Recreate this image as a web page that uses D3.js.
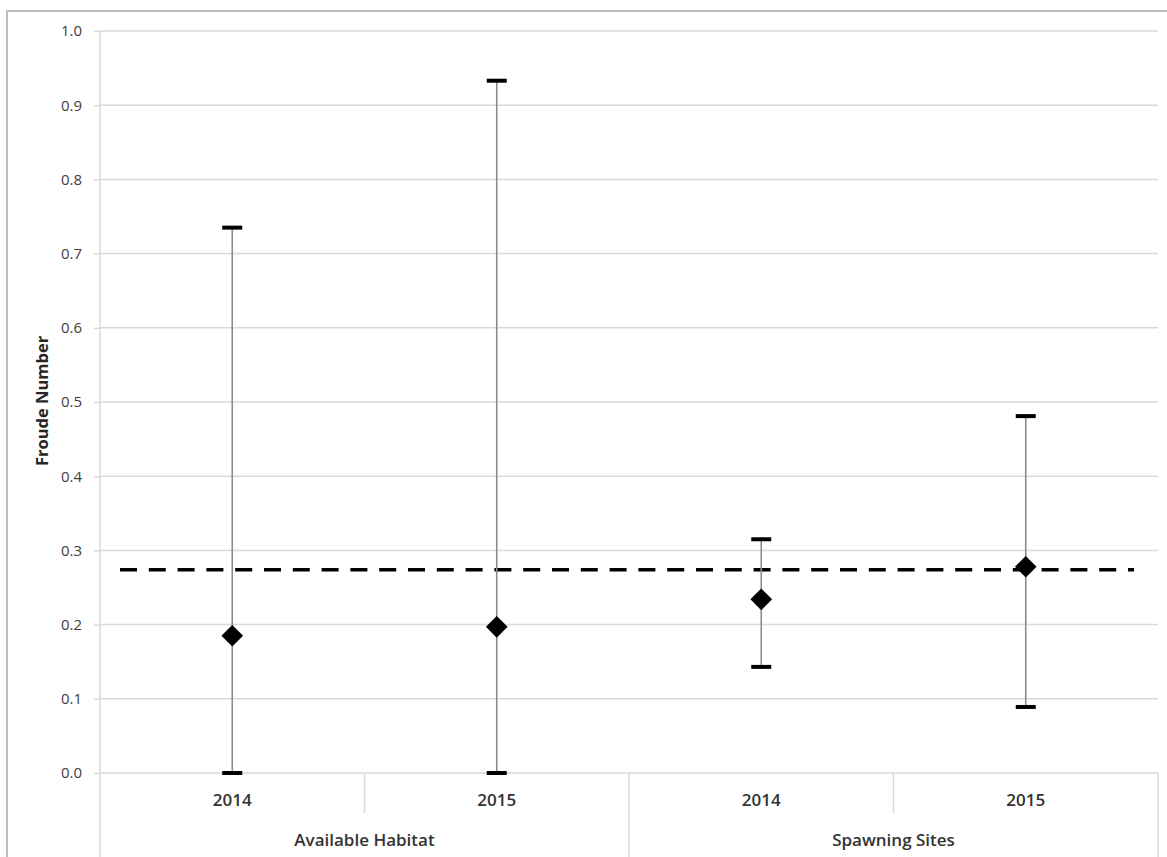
<!DOCTYPE html>
<html>
<head>
<meta charset="utf-8">
<script src="https://cdn.jsdelivr.net/npm/d3@7"></script>
<style>
  html, body { margin: 0; padding: 0; background: #fff; }
  svg { display: block; }
</style>
</head>
<body>
<svg id="chart" width="1167" height="857"></svg>
<script>
// ---- data ----
const groups = ["Available Habitat", "Available Habitat", "Spawning Sites", "Spawning Sites"];
const years = ["2014", "2015", "2014", "2015"];
const meanValues = [0.185, 0.197, 0.234, 0.278];
const minValues = [0.0, 0.0, 0.143, 0.089];
const maxValues = [0.735, 0.933, 0.315, 0.481];
const thresholdValue = 0.274;
const yTicks = [0, 0.1, 0.2, 0.3, 0.4, 0.5, 0.6, 0.7, 0.8, 0.9, 1.0];
const yLabel = "Froude Number";

// ---- layout ----
const W = 1167, H = 857;
const mLeft = 100, mRight = 1158, mTop = 31, mBottom = 773;
const svg = d3.select("#chart");
const font = "'Open Sans', 'Liberation Sans', sans-serif";

// outer frame
svg.append("rect").attr("x", 7).attr("y", 11).attr("width", W + 10).attr("height", H + 10)
  .attr("fill", "#fff").attr("stroke", "#bfbfbf").attr("stroke-width", 2);

const keys = years.map((yv, i) => i);
const x = d3.scaleBand().domain(keys).range([mLeft, mRight]).paddingInner(0).paddingOuter(0);
const y = d3.scaleLinear().domain([0, 1]).range([mBottom, mTop]);

// gridlines
svg.append("g").selectAll("line").data(yTicks).join("line")
  .attr("x1", mLeft).attr("x2", mRight)
  .attr("y1", d => y(d)).attr("y2", d => y(d))
  .attr("stroke", "#d9d9d9").attr("stroke-width", 1.5);

// y axis
const yAxis = svg.append("g").attr("transform", `translate(${mLeft},0)`)
  .call(d3.axisLeft(y).tickValues(yTicks).tickFormat(d3.format(".1f")).tickSize(6).tickPadding(12));
yAxis.select(".domain").attr("stroke", "#d9d9d9").attr("stroke-width", 1.5)
  .attr("d", `M0,${mTop}V${H + 5}`);
yAxis.selectAll(".tick line").attr("stroke", "#d9d9d9").attr("stroke-width", 1.5);
yAxis.selectAll(".tick text").attr("fill", "#404040").style("font-family", font)
  .style("font-size", "15px").style("font-weight", "500");

// y label
svg.append("text").attr("transform", `translate(48,401) rotate(-90)`)
  .attr("text-anchor", "middle").attr("fill", "#262626")
  .style("font-family", font).style("font-size", "16.5px").style("font-weight", "bold")
  .text(yLabel);

// category axis dividers
const gAxis = svg.append("g");
keys.forEach((k, i) => {
  const xr = x(k) + x.bandwidth();
  const isGroupEnd = i === keys.length - 1 || groups[i] !== groups[i + 1];
  gAxis.append("line").attr("x1", xr).attr("x2", xr).attr("y1", mBottom)
    .attr("y2", isGroupEnd ? H + 5 : mBottom + 40)
    .attr("stroke", "#d9d9d9").attr("stroke-width", 1.5);
});
// year labels
svg.append("g").selectAll("text").data(keys).join("text")
  .attr("x", d => x(d) + x.bandwidth() / 2).attr("y", mBottom + 33)
  .attr("text-anchor", "middle").attr("fill", "#333")
  .style("font-family", font).style("font-size", "17px").style("font-weight", "600")
  .text(d => years[d]);
// group labels
const groupNames = Array.from(new Set(groups));
groupNames.forEach(g => {
  const idx = keys.filter(k => groups[k] === g);
  const x0 = x(idx[0]), x1 = x(idx[idx.length - 1]) + x.bandwidth();
  svg.append("text").attr("x", (x0 + x1) / 2).attr("y", mBottom + 73)
    .attr("text-anchor", "middle").attr("fill", "#333")
    .style("font-family", font).style("font-size", "17px").style("font-weight", "600")
    .text(g);
});

// threshold dashed line
svg.append("line").attr("x1", mLeft + 20).attr("x2", mRight - 24)
  .attr("y1", y(thresholdValue)).attr("y2", y(thresholdValue))
  .attr("stroke", "#000").attr("stroke-width", 3.5).attr("stroke-dasharray", "17,11.8");

// error bars
const cx = k => x(k) + x.bandwidth() / 2;
const eb = svg.append("g");
eb.selectAll("line.v").data(keys).join("line").attr("class", "v")
  .attr("x1", cx).attr("x2", cx)
  .attr("y1", d => y(minValues[d])).attr("y2", d => y(maxValues[d]))
  .attr("stroke", "#8c8c8c").attr("stroke-width", 1.6);
["min", "max"].forEach(t => {
  eb.selectAll("line." + t).data(keys).join("line").attr("class", t)
    .attr("x1", d => cx(d) - 10).attr("x2", d => cx(d) + 10)
    .attr("y1", d => y(t === "min" ? minValues[d] : maxValues[d]))
    .attr("y2", d => y(t === "min" ? minValues[d] : maxValues[d]))
    .attr("stroke", "#000").attr("stroke-width", 4);
});

// diamonds
svg.append("g").selectAll("path").data(keys).join("path")
  .attr("transform", d => `translate(${cx(d)},${y(meanValues[d])}) rotate(45)`)
  .attr("d", d3.symbol().type(d3.symbolSquare).size(235))
  .attr("fill", "#000");
</script>
</body>
</html>
